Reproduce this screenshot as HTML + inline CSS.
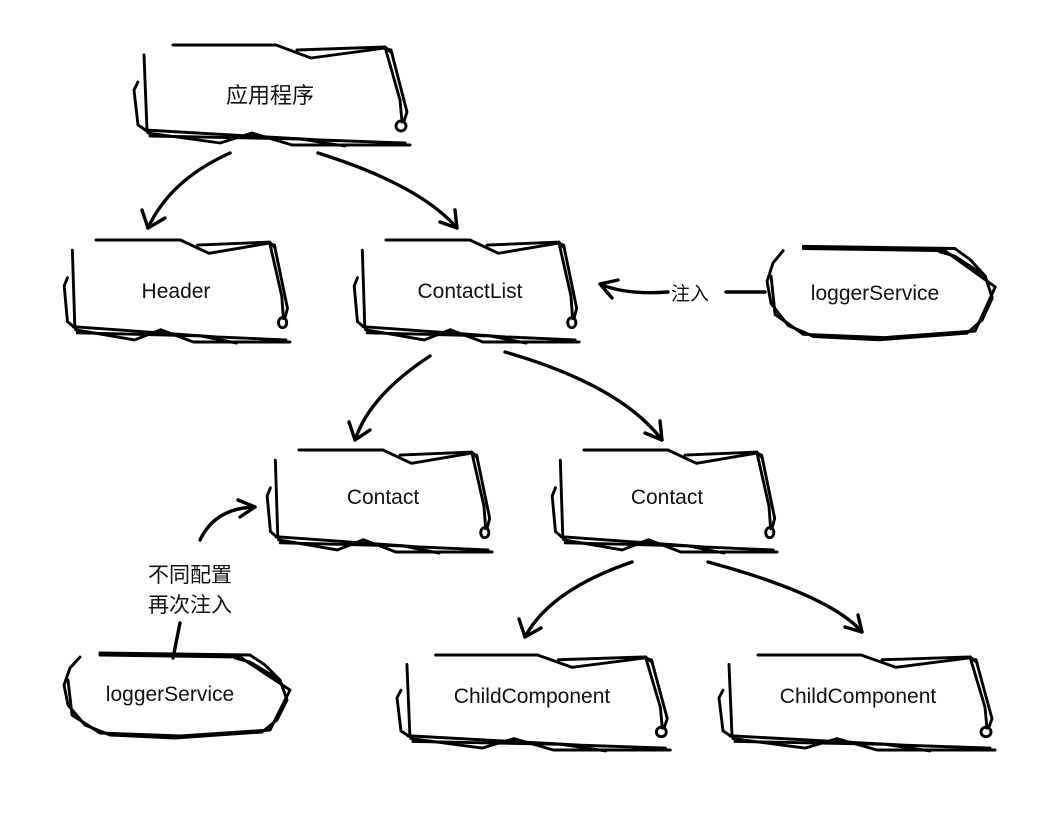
<!DOCTYPE html>
<html><head><meta charset="utf-8"><style>
html,body{margin:0;padding:0;background:#fff;}
svg{display:block}
text{font-family:"Liberation Sans","Noto Sans CJK SC",sans-serif;fill:#111;}
.s{fill:none;stroke:#000;stroke-width:2.9;stroke-linejoin:round;stroke-linecap:round;vector-effect:non-scaling-stroke}
.a{fill:none;stroke:#000;stroke-width:3.4;stroke-linecap:round;stroke-linejoin:round}
</style></head><body>
<svg width="1042" height="816" viewBox="0 0 1042 816" xmlns="http://www.w3.org/2000/svg">
<defs>
<g id="box">
<path class="s" d="M173,45 L276,45 L311,58 L385,48 L390,50"/>
<path class="s" d="M297,50 L385,47 L392,53"/>
<path class="s" d="M385,47 L400,100 L402,122"/>
<path class="s" d="M391,50 L407,112 L404,121"/>
<circle class="s" cx="401" cy="126" r="5"/>
<path class="s" d="M144,55 L147,130"/>
<path class="s" d="M138,82 L134,90 L138,125 L150,133"/>
<path class="s" d="M148,133 L220,143 L252,133 L292,145 L410,145"/>
<path class="s" d="M145,130 L320,140 L405,143"/>
<path class="s" d="M150,136 L300,139 L345,146"/>
</g>
<g id="ell">
<path class="s" d="M100,653 L250,655 L265,665 L280,680 L287,700 L277,720 L262,732 L175,738 L110,735 L85,725 L68,705 L64,685 L70,668 L80,657"/>
<path class="s" d="M100,655 L240,657 L290,690 L270,730 L180,736 L100,733 L72,715 L68,680"/>
<path class="s" d="M235,658 L250,662 L280,680"/>
</g>
</defs>

<use href="#box"/>
<use href="#box" transform="translate(65,240) scale(0.818,1.02) translate(-135,-45)"/>
<use href="#box" transform="translate(355,240) scale(0.815,1.02) translate(-135,-45)"/>
<use href="#box" transform="translate(268,450) scale(0.815,1.02) translate(-135,-45)"/>
<use href="#box" transform="translate(553,450) scale(0.815,1.02) translate(-135,-45)"/>
<use href="#box" transform="translate(398,655) scale(0.99,0.95) translate(-135,-45)"/>
<use href="#box" transform="translate(720,655) scale(1,0.95) translate(-135,-45)"/>

<use href="#ell"/>
<use href="#ell" transform="translate(765,243) scale(1.01,1.1) translate(-62,-650)"/>

<g font-size="21" text-anchor="middle">
<text x="270" y="103" font-size="22">应用程序</text>
<text x="176" y="298">Header</text>
<text x="470" y="298">ContactList</text>
<text x="383" y="504">Contact</text>
<text x="667" y="504">Contact</text>
<text x="532" y="703">ChildComponent</text>
<text x="858" y="703">ChildComponent</text>
<text x="875" y="300">loggerService</text>
<text x="170" y="701">loggerService</text>
<text x="690" y="300" font-size="19">注入</text>
<text x="190" y="582" font-size="21">不同配置</text>
<text x="190" y="612" font-size="21">再次注入</text>
</g>

<g class="a">
<path d="M230,153 Q170,180 148,228"/><path d="M142,210 L148,228 L165,218"/>
<path d="M318,153 Q420,185 457,228"/><path d="M440,222 L457,228 L455,210"/>
<path d="M430,356 Q370,395 355,440"/><path d="M349,422 L355,440 L370,430"/>
<path d="M505,352 Q620,385 662,440"/><path d="M645,433 L662,440 L660,421"/>
<path d="M632,562 Q550,590 525,637"/><path d="M519,619 L525,637 L541,628"/>
<path d="M708,562 Q830,595 862,632"/><path d="M845,627 L862,632 L858,615"/>
<path d="M765,292 L726,292"/>
<path d="M668,292 Q625,295 600,284"/><path d="M618,280 L600,284 L612,298"/>
<path d="M173,658 L180,623"/>
<path d="M200,540 Q215,508 255,507"/><path d="M238,500 L255,507 L240,517"/>
</g>
</svg>
</body></html>
